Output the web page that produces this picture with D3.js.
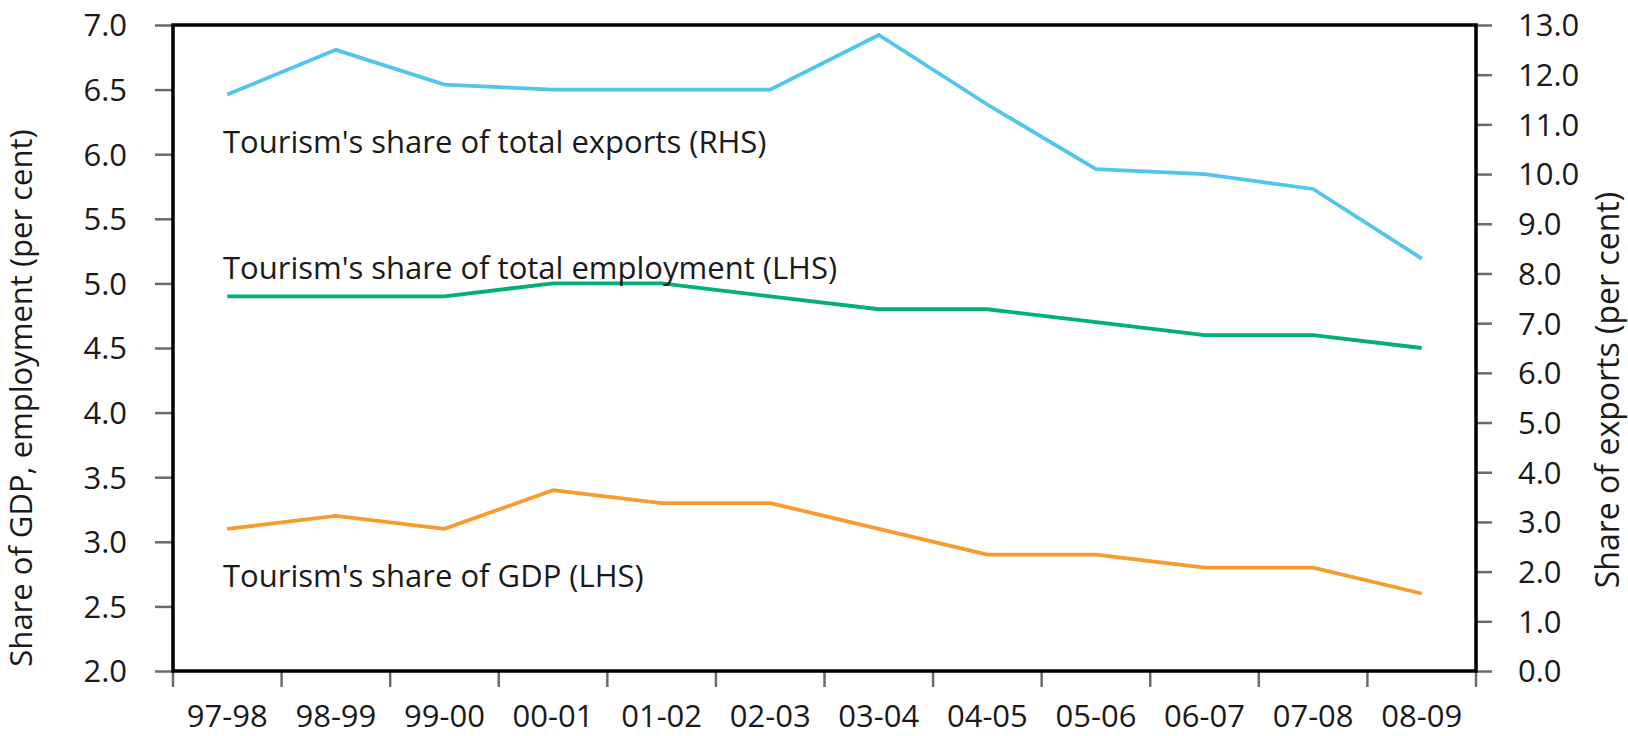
<!DOCTYPE html>
<html>
<head>
<meta charset="utf-8">
<title>Tourism shares</title>
<script src="https://cdn.jsdelivr.net/npm/d3@7"></script>
<style>
  html, body { margin: 0; padding: 0; background: #fff; }
  svg { display: block; font-family: "Open Sans", sans-serif; }
  .tick text { fill: #1a1a1a; }
</style>
</head>
<body>
<svg id="chart" width="1628" height="736"></svg>
<script>
// financial years on the x axis
const years = ['97-98', '98-99', '99-00', '00-01', '01-02', '02-03',
  '03-04', '04-05', '05-06', '06-07', '07-08', '08-09'];

const exportsShare = [11.6, 12.5, 11.8, 11.7, 11.7, 11.7, 12.8, 11.4, 10.1, 10.0, 9.7, 8.3]; // RHS
const employmentShare = [4.9, 4.9, 4.9, 5.0, 5.0, 4.9, 4.8, 4.8, 4.7, 4.6, 4.6, 4.5];     // LHS
const gdpShare = [3.1, 3.2, 3.1, 3.4, 3.3, 3.3, 3.1, 2.9, 2.9, 2.8, 2.8, 2.6];           // LHS

const leftTicks = [2.0, 2.5, 3.0, 3.5, 4.0, 4.5, 5.0, 5.5, 6.0, 6.5, 7.0];
const rightTicks = [0, 1, 2, 3, 4, 5, 6, 7, 8, 9, 10, 11, 12, 13];

const seriesNames = ["Tourism's share of total exports (RHS)",
  "Tourism's share of total employment (LHS)",
  "Tourism's share of GDP (LHS)"];

const width = 1628, height = 736;
const margin = { top: 25, right: 152, bottom: 65, left: 173 };

const svg = d3.select('#chart');

const x = d3.scaleBand()
  .domain(years)
  .range([margin.left, width - margin.right])
  .padding(0);

const yLeft = d3.scaleLinear()
  .domain([2, 7])
  .range([height - margin.bottom, margin.top]);

const yRight = d3.scaleLinear()
  .domain([0, 13])
  .range([height - margin.bottom, margin.top]);

const fmt = d3.format('.1f');

// left axis
const gLeft = svg.append('g')
  .attr('transform', 'translate(' + margin.left + ',0)')
  .call(d3.axisLeft(yLeft).tickValues(leftTicks).tickFormat(fmt).tickSize(18).tickSizeOuter(0));

// right axis
const gRight = svg.append('g')
  .attr('transform', 'translate(' + (width - margin.right) + ',0)')
  .call(d3.axisRight(yRight).tickValues(rightTicks).tickFormat(fmt).tickSize(16).tickSizeOuter(0));

// bottom axis: labels in the middle of each band, ticks on the band edges
const gBottom = svg.append('g')
  .attr('transform', 'translate(0,' + (height - margin.bottom) + ')')
  .call(d3.axisBottom(x).tickSize(0).tickSizeOuter(0));

gBottom.selectAll('.edge')
  .data(years.map(d => x(d)).concat([x.range()[1]]))
  .enter()
  .append('line')
  .attr('class', 'edge')
  .attr('x1', d => d)
  .attr('x2', d => d)
  .attr('y1', 0)
  .attr('y2', 16)
  .attr('stroke', '#6b6b6b')
  .attr('stroke-width', 2.5);

[gLeft, gRight, gBottom].forEach(g => {
  g.select('.domain').remove();
  g.selectAll('.tick line').attr('stroke', '#6b6b6b').attr('stroke-width', 2.5);
  g.selectAll('.tick text').attr('font-size', 31).attr('font-family', '"Open Sans", sans-serif');
});

gLeft.selectAll('.tick text').attr('x', -46).attr('dy', '0.35em');
gRight.selectAll('.tick text').attr('x', 42).attr('dy', '0.35em');
gBottom.selectAll('.tick text').attr('y', 56).attr('dy', 0);

// plot frame
svg.append('rect')
  .attr('x', margin.left)
  .attr('y', margin.top)
  .attr('width', width - margin.left - margin.right)
  .attr('height', height - margin.top - margin.bottom)
  .attr('fill', 'none')
  .attr('stroke', '#000')
  .attr('stroke-width', 3.5);

// lines
const series = [
  { values: exportsShare, scale: yRight, color: '#4fc6ea', labelY: 153 },
  { values: employmentShare, scale: yLeft, color: '#00b074', labelY: 279 },
  { values: gdpShare, scale: yLeft, color: '#f99a2e', labelY: 587 }
];

series.forEach((s, i) => {
  const line = d3.line()
    .x((d, j) => x(years[j]) + x.bandwidth() / 2)
    .y(d => s.scale(d));

  svg.append('path')
    .datum(s.values)
    .attr('d', line)
    .attr('fill', 'none')
    .attr('stroke', s.color)
    .attr('stroke-width', 3.8)
    .attr('stroke-linejoin', 'miter');

  svg.append('text')
    .attr('x', 223)
    .attr('y', s.labelY)
    .attr('font-size', 31)
    .attr('fill', '#1a1a1a')
    .text(seriesNames[i]);
});

// axis titles
svg.append('text')
  .attr('transform', 'translate(20,398) rotate(-90)')
  .attr('text-anchor', 'middle')
  .attr('dominant-baseline', 'central')
  .attr('font-size', 31)
  .attr('fill', '#1a1a1a')
  .text('Share of GDP, employment (per cent)');

svg.append('text')
  .attr('transform', 'translate(1606,390) rotate(-90)')
  .attr('text-anchor', 'middle')
  .attr('dominant-baseline', 'central')
  .attr('font-size', 32)
  .attr('fill', '#1a1a1a')
  .text('Share of exports (per cent)');
</script>
</body>
</html>
